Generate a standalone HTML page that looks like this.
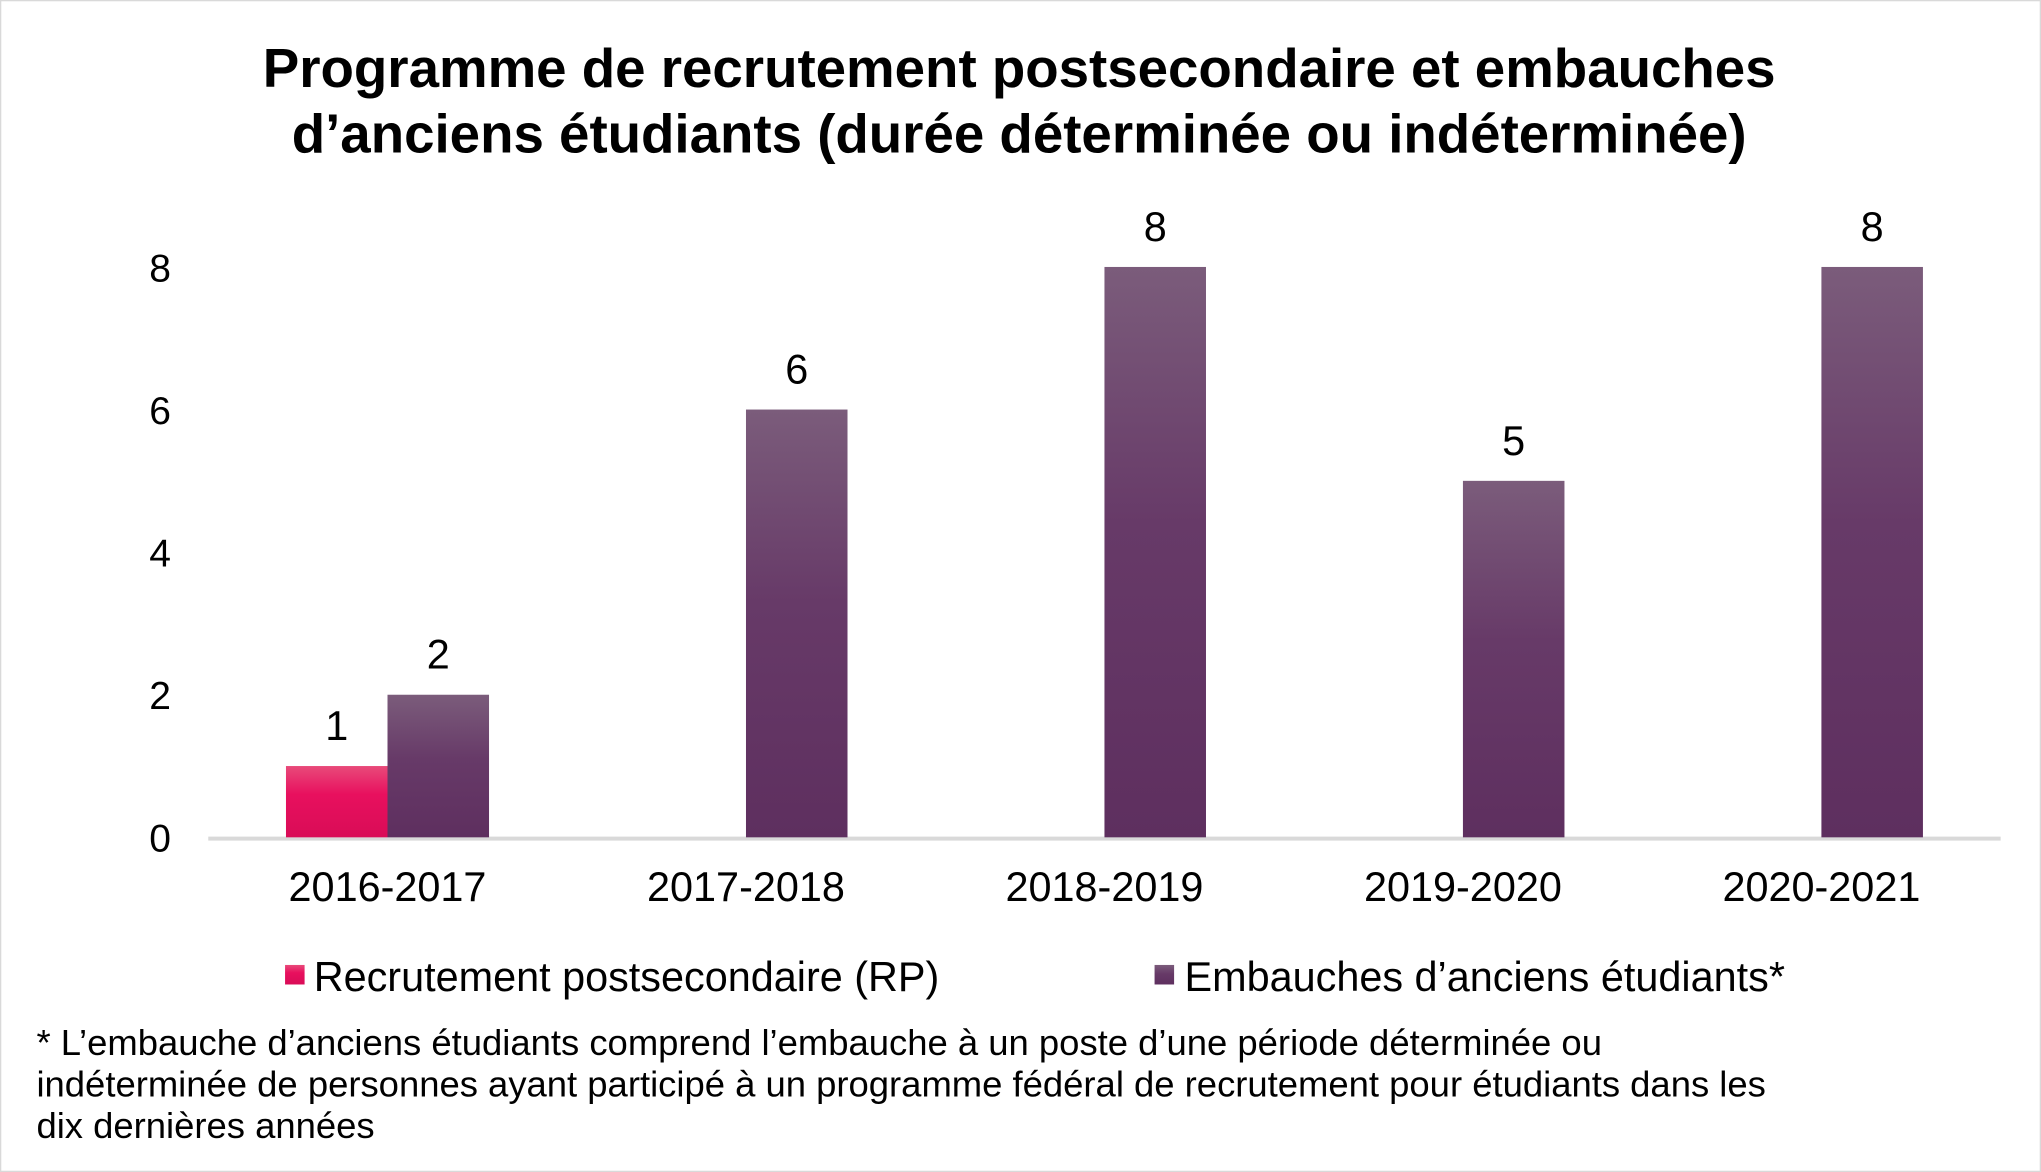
<!DOCTYPE html>
<html><head><meta charset="utf-8"><style>
html,body{margin:0;padding:0;background:#fff}
svg{display:block;font-family:"Liberation Sans",Arial,sans-serif}
</style></head><body>
<svg width="2041" height="1172" viewBox="0 0 1568 900" preserveAspectRatio="none">
<defs>
<linearGradient id="gp" x1="0" y1="0" x2="0" y2="1"><stop offset="0" stop-color="#7b5c7b"/><stop offset="0.45" stop-color="#673a68"/><stop offset="1" stop-color="#5e2f5f"/></linearGradient>
<linearGradient id="gr" x1="0" y1="0" x2="0" y2="1"><stop offset="0" stop-color="#e84a7a"/><stop offset="0.4" stop-color="#e8105e"/><stop offset="1" stop-color="#d90c57"/></linearGradient>
</defs>
<rect x="0.5" y="0.5" width="1567" height="899" fill="#fff" stroke="#d9d9d9"/>
<text x="783" y="67" text-anchor="middle" font-size="42" font-weight="bold">Programme de recrutement postsecondaire et embauches</text>
<text x="783" y="117" text-anchor="middle" font-size="42" font-weight="bold">d’anciens étudiants (durée déterminée ou indéterminée)</text>
<g id="plot"></g>
<rect x="219" y="741" width="15" height="15" fill="url(#gr)"/>
<text x="241" y="761" font-size="31.8">Recrutement postsecondaire (RP)</text>
<rect x="887" y="741" width="15" height="15" fill="url(#gp)"/>
<text x="910" y="761" font-size="31.8">Embauches d’anciens étudiants*</text>
<g font-size="28">
<text x="28" y="810">* L’embauche d’anciens étudiants comprend l’embauche à un poste d’une période déterminée ou</text>
<text x="28" y="842">indéterminée de personnes ayant participé à un programme fédéral de recrutement pour étudiants dans les</text>
<text x="28" y="874">dix dernières années</text>
</g>
</svg>
<script>
const categories = ["2016-2017","2017-2018","2018-2019","2019-2020","2020-2021"];
const rpValues = [1,null,null,null,null];
const alumniValues = [2,6,8,5,8];
const yTicks = [0,2,4,6,8];
const NS="http://www.w3.org/2000/svg";
const g=document.getElementById('plot');
const y0=643, unit=54.75, x0=160, x1=1537, bw=78;
const yS=v=>y0-v*unit;
const step=(x1-x0)/categories.length;
const xC=i=>x0+step*(i+0.5);
function mk(t,a){const e=document.createElementNS(NS,t);for(const k in a)e.setAttribute(k,a[k]);g.appendChild(e);return e;}
yTicks.forEach(v=>{const t=mk('text',{x:123,y:yS(v)+11,'text-anchor':'middle','font-size':30});t.textContent=v;

});
const ax=mk('line',{x1:x0,x2:x1,y1:y0+1,y2:y0+1,stroke:'#d9d9d9','stroke-width':3});


categories.forEach((c,i)=>{
 const cx=xC(i);
 const t=mk('text',{x:cx,y:692,'text-anchor':'middle','font-size':31.8});t.textContent=c;
 
 
 [[rpValues[i],cx-bw,'url(#gr)','bar-rp'],[alumniValues[i],cx,'url(#gp)','bar-alumni']].forEach(([v,x,f,n])=>{
  if(v==null)return;
  const r=mk('rect',{x:x,y:yS(v),width:bw,height:v*unit,fill:f});
  
  
  const l=mk('text',{x:x+bw/2,y:yS(v)-20,'text-anchor':'middle','font-size':31.8});l.textContent=v;
  
  
 });
});
</script>
</body></html>
